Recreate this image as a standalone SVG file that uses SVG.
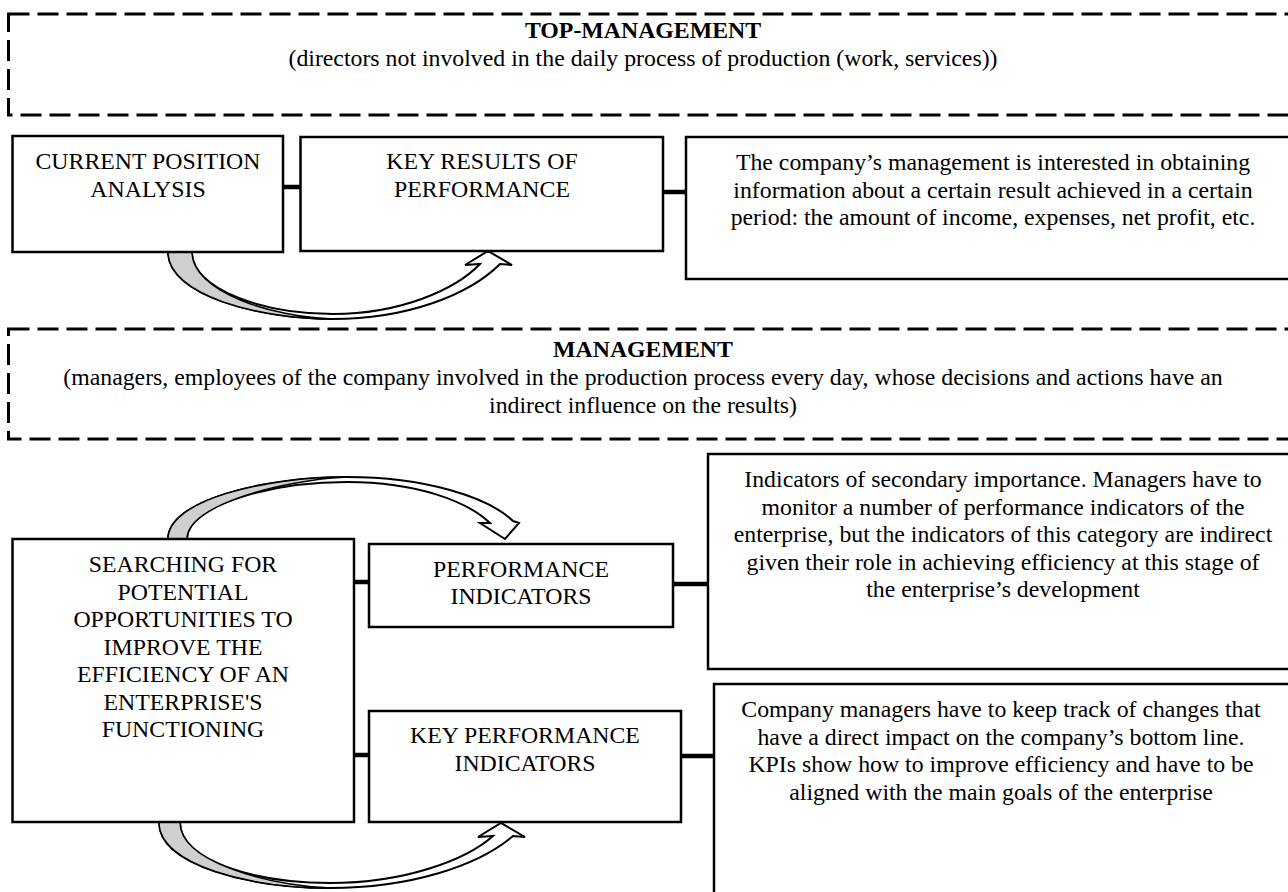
<svg xmlns="http://www.w3.org/2000/svg" width="1288" height="892" viewBox="0 0 1288 892">
<style>
text{font-family:"Liberation Serif","Times New Roman",serif;font-size:23.8px;fill:#000;text-anchor:middle}
.b{font-weight:bold}
.box{fill:#fff;stroke:#000;stroke-width:2.5}
.dash{fill:none;stroke:#000;stroke-width:3;stroke-dasharray:21,8}
.con{stroke:#000;stroke-width:4.5;fill:none}
.arr{fill:#fff;stroke:#000;stroke-width:2;stroke-linejoin:miter}
.gr{fill:#cfcfcf;stroke:#000;stroke-width:1.5}
</style>
<rect width="1288" height="892" fill="#fff"/>
<g id="top-management">
<rect class="dash" x="8.5" y="14" width="1300" height="101"/>
<text class="b" x="643" y="38">TOP-MANAGEMENT</text>
<text x="643" y="65.5">(directors not involved in the daily process of production (work, services))</text>
</g>
<g id="management">
<rect class="dash" x="8.5" y="329" width="1300" height="110"/>
<text class="b" x="643" y="357">MANAGEMENT</text>
<text x="643" y="385">(managers, employees of the company involved in the production process every day, whose decisions and actions have an</text>
<text x="643" y="412.5">indirect influence on the results)</text>
</g>
<g id="connectors">
<line class="con" x1="283" y1="187" x2="301" y2="187"/>
<line class="con" x1="663" y1="192" x2="686" y2="192"/>
<line class="con" x1="354" y1="582" x2="369" y2="582"/>
<line class="con" x1="673" y1="584" x2="708" y2="584"/>
<line class="con" x1="354" y1="755" x2="369" y2="755"/>
<line class="con" x1="681" y1="756" x2="714" y2="756"/>
<g id="arrow-1">
<path class="arr" d="M168,252 C168,295 258,319 333,319 C405,319 468,296 500,264 L512,265 L488,251 L465,265 L480,264 C455,290 400,314 333,314 C265,314 192,290 192,252 Z"/>
<path class="gr" d="M168,252 C168,295 258,319 333,319 C272,317 192,292 192,252 Z"/>
</g>
<g id="arrow-2">
<path class="arr" d="M168,539 C168,500 265,477 347,477 C425,477 488,497 513,521 L519,523 L505,539 L480,523 L490,523 C468,502 418,482 347,482 C272,482 187,505 187,539 Z"/>
<path class="gr" d="M168,539 C168,500 265,477 347,477 C282,480 187,505 187,539 Z"/>
</g>
<g id="arrow-3">
<path class="arr" d="M159,822 C159,866 252,888 330,888 C410,888 478,866 513,836 L525,837 L501,823 L478,837 L493,836 C466,860 405,883 330,883 C258,883 180,862 180,822 Z"/>
<path class="gr" d="M159,822 C159,866 252,888 330,888 C267,885 180,862 180,822 Z"/>
</g>
</g>
<g id="current-position">
<rect class="box" x="12.5" y="136" width="270.5" height="116"/>
<text x="148" y="169">CURRENT POSITION</text>
<text x="148" y="197">ANALYSIS</text>
</g>
<g id="key-results">
<rect class="box" x="300.5" y="137" width="362.5" height="114"/>
<text x="482" y="169">KEY RESULTS OF</text>
<text x="482" y="197">PERFORMANCE</text>
</g>
<g id="results-note">
<rect class="box" x="686" y="137" width="640" height="142"/>
<text x="993" y="170">The company’s management is interested in obtaining</text>
<text x="993" y="197.5">information about a certain result achieved in a certain</text>
<text x="993" y="225">period: the amount of income, expenses, net profit, etc.</text>
</g>
<g id="searching">
<rect class="box" x="12.5" y="539" width="341.5" height="283"/>
<text x="183" y="572">SEARCHING FOR</text>
<text x="183" y="599.5">POTENTIAL</text>
<text x="183" y="627">OPPORTUNITIES TO</text>
<text x="183" y="654.5">IMPROVE THE</text>
<text x="183" y="682">EFFICIENCY OF AN</text>
<text x="183" y="709.5">ENTERPRISE'S</text>
<text x="183" y="737">FUNCTIONING</text>
</g>
<g id="performance-indicators">
<rect class="box" x="369" y="544" width="304" height="83"/>
<text x="521" y="577">PERFORMANCE</text>
<text x="521" y="604">INDICATORS</text>
</g>
<g id="pi-note">
<rect class="box" x="708" y="454" width="640" height="215"/>
<text x="1003" y="487">Indicators of secondary importance. Managers have to</text>
<text x="1003" y="514.5">monitor a number of performance indicators of the</text>
<text x="1003" y="542">enterprise, but the indicators of this category are indirect</text>
<text x="1003" y="569.5">given their role in achieving efficiency at this stage of</text>
<text x="1003" y="597">the enterprise’s development</text>
</g>
<g id="kpi">
<rect class="box" x="369" y="711" width="312" height="111"/>
<text x="525" y="743">KEY PERFORMANCE</text>
<text x="525" y="771">INDICATORS</text>
</g>
<g id="kpi-note">
<rect class="box" x="714" y="684" width="640" height="240"/>
<text x="1001" y="717">Company managers have to keep track of changes that</text>
<text x="1001" y="744.5">have a direct impact on the company’s bottom line.</text>
<text x="1001" y="772">KPIs show how to improve efficiency and have to be</text>
<text x="1001" y="799.5">aligned with the main goals of the enterprise</text>
</g>
</svg>
